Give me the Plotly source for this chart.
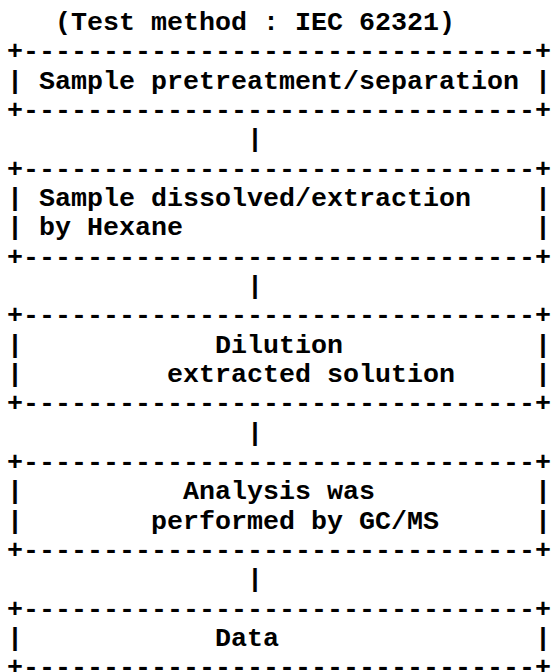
import plotly.graph_objects as go

# ---- content ----
title_text = "(Test method : IEC 62321)"
title_col = 3
step_lines = [
    ["Sample pretreatment/separation"],
    ["Sample dissolved/extraction", "by Hexane"],
    ["Dilution", "extracted solution"],
    ["Analysis was", "performed by GC/MS"],
    ["Data"],
]
step_cols = [
    [2],
    [2, 2],
    [13, 10],
    [11, 9],
    [13],
]
box_width_chars = 34
connector_col = 15

# ---- build ASCII lines ----
def pad(s, n):
    return s + " " * (n - len(s))

lines = [" " * title_col + title_text]
border = "+" + "-" * (box_width_chars - 2) + "+"
for i, (texts, cols) in enumerate(zip(step_lines, step_cols)):
    if i > 0:
        lines.append(" " * connector_col + "|")
    lines.append(border)
    for t, c in zip(texts, cols):
        body = pad("|" + " " * (c - 1) + t, box_width_chars - 1) + "|"
        lines.append(body)
    lines.append(border)

W, H = 551, 672
x0 = 7.0
char_w = 16.0
row0 = 23.0
row_h = 29.33
font_px = 26.67

fig = go.Figure()
fig.add_trace(go.Scatter(x=[0, W], y=[0, H], mode="markers",
                         marker=dict(opacity=0), hoverinfo="skip", showlegend=False))
for r, ln in enumerate(lines):
    fig.add_annotation(
        x=x0 + len(ln) * char_w / 2, y=row0 + r * row_h, xref="x", yref="y",
        text=ln.replace(" ", "\u00a0"),
        showarrow=False, xanchor="center", yanchor="middle",
        borderpad=0, borderwidth=0,
        font=dict(family="Liberation Mono", size=font_px, color="#000000", weight="bold"),
    )

fig.update_layout(
    width=W, height=H,
    margin=dict(l=0, r=0, t=0, b=0),
    paper_bgcolor="white", plot_bgcolor="white",
    xaxis=dict(range=[0, W], visible=False, fixedrange=True),
    yaxis=dict(range=[H, 0], visible=False, fixedrange=True),
    showlegend=False,
)
fig.write_html(
    "out.html",
    config={"displayModeBar": False, "staticPlot": True},
    post_script="document.body.style.margin='0';document.body.style.overflow='hidden';",
)
